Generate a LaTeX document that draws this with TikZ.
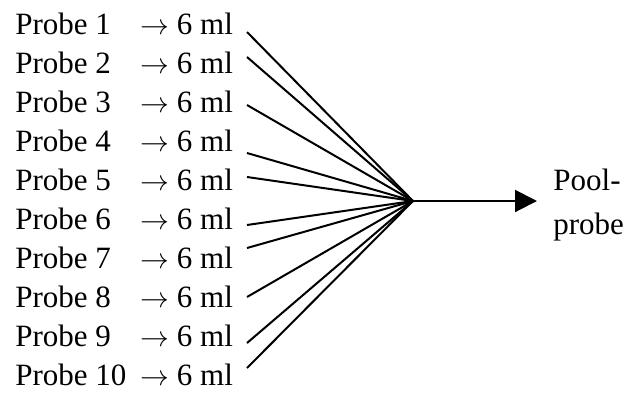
\documentclass[tikz,border=0pt]{standalone}
\usepackage{fontspec}
\setmainfont{Liberation Serif}
\usetikzlibrary{arrows.meta}
\begin{document}
\begin{tikzpicture}[x=0.5pt,y=-0.5pt,font=\fontsize{15.5}{22}\selectfont]
\useasboundingbox (0,0) rectangle (631,392);
\tikzset{label/.style={anchor=base west,inner sep=0}, feed/.style={line width=1pt}}
\coordinate (hub) at (413,201);
% one row per sample, with its feed line to the hub
\foreach \i/\sy in {1/32,2/57,3/105,4/153,5/177,6/225,7/248,8/297,9/343,10/368}{
  \node[label] (probe\i) at (15,{34+39.1*(\i-1)}) {Probe \i};
  \node[label] (vol\i) at (140,{34+39.1*(\i-1)}) {$\rightarrow$ 6 ml};
  \coordinate (s\i) at (247,\sy);
  \draw[feed] (s\i) -- (hub);
}
\node[anchor=north west,align=left,inner sep=0] (pool) at (553,169) {Pool-\\probe};
\draw[feed,-{Triangle[length=11pt,width=11pt]},shorten >=8pt] (hub) -- (hub -| pool.west);
\end{tikzpicture}
\end{document}
